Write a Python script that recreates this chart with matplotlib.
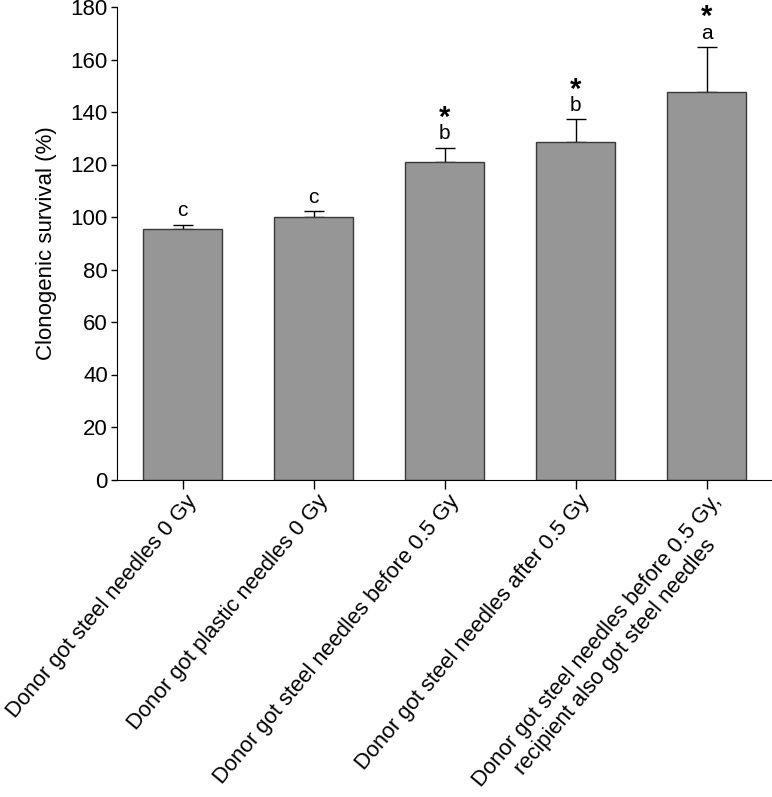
import matplotlib.pyplot as plt
import matplotlib.transforms as mtransforms
import numpy as np

plt.rcParams['font.family'] = ['Liberation Sans', 'DejaVu Sans']

categories = ['Donor got steel needles 0 Gy',
              'Donor got plastic needles 0 Gy',
              'Donor got steel needles before 0.5 Gy',
              'Donor got steel needles after 0.5 Gy',
              'Donor got steel needles before 0.5 Gy,\nrecipient also got steel needles']
survival = [95.3, 100.0, 120.8, 128.5, 147.5]
sem = [1.8, 2.2, 5.6, 8.8, 17.3]
letters = ['c', 'c', 'b', 'b', 'a']
stars = ['', '', '*', '*', '*']

fig = plt.figure(figsize=(7.72, 7.97), dpi=100)
ax = fig.add_axes([117 / 772, 1 - 479.5 / 797, 655 / 772, 472.5 / 797])

x = np.arange(len(categories))
ax.bar(x, survival, width=0.61, color='#969696', edgecolor='#3a3a3a', linewidth=1.0,
       zorder=2)
ax.errorbar(x, survival, yerr=[np.zeros(len(sem)), sem], fmt='none', ecolor='black',
            elinewidth=1.0, capsize=7, capthick=1.0, zorder=1)

for i in range(len(categories)):
    top = survival[i] + sem[i]
    ax.annotate(letters[i], (x[i], top), xytext=(0, 6), textcoords='offset points',
                ha='center', va='baseline', fontsize=15)
    if stars[i]:
        ax.annotate(stars[i], (x[i], top), xytext=(0, 15.5), textcoords='offset points',
                    ha='center', va='baseline', fontsize=21, fontweight='bold')

ax.set_xlim(-0.5, 4.5)
ax.set_ylim(0, 180)
ax.set_yticks(np.arange(0, 181, 20))
ax.set_xticks(x)
ax.set_xticklabels(categories, rotation=50, ha='right', va='top',
                   rotation_mode='anchor', multialignment='center', fontsize=15.8)
ax.set_ylabel('Clonogenic survival (%)', fontsize=16, labelpad=10)
ax.tick_params(axis='y', labelsize=16, length=4.5, width=1, direction='out', pad=2)
ax.tick_params(axis='x', length=6.5, width=1, direction='out', pad=4)
ax.spines['top'].set_visible(False)
ax.spines['right'].set_visible(False)

# nudge the slanted labels a little right/up
shift = mtransforms.ScaledTranslation(3 / 100, 3 / 100, fig.dpi_scale_trans)
for lab in ax.get_xticklabels():
    lab.set_transform(lab.get_transform() + shift)

fig.savefig('out.png', dpi=100)
